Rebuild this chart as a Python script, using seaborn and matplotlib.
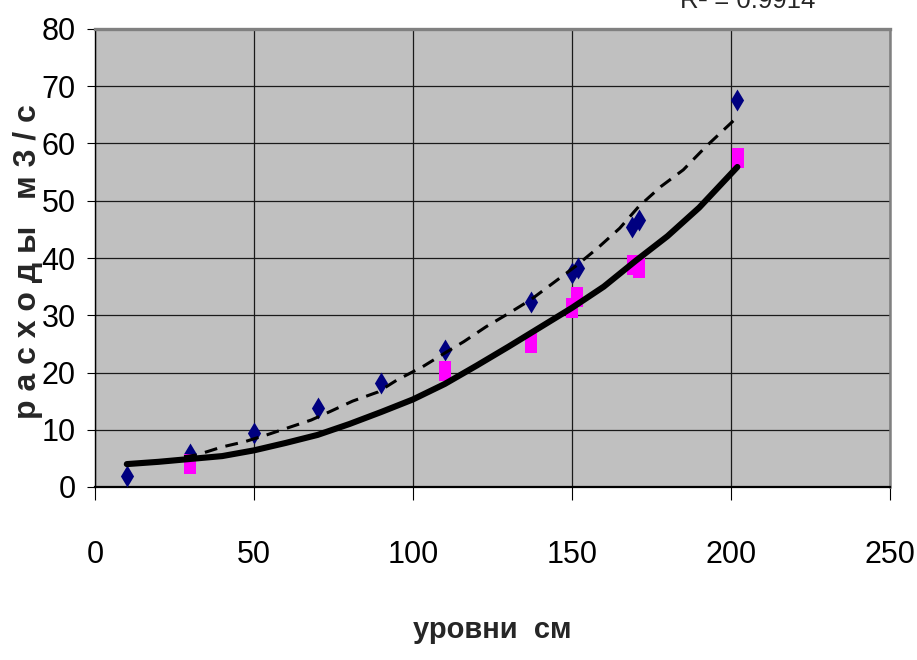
import matplotlib
matplotlib.use("Agg")
import matplotlib.pyplot as plt
from matplotlib import font_manager
import seaborn as sns
import pandas as pd

# measured points (diamonds) and second series (squares)
diam_x = [10, 30, 50, 70, 90, 110, 137, 150, 152, 169, 171, 202]
diam_y = [1.9, 5.7, 9.5, 13.8, 18.1, 23.9, 32.4, 37.3, 38.2, 45.5, 46.6, 67.6]
sq_x = [30, 110, 137, 150, 151.5, 169.3, 171, 202.3]
sq_y = [4.1, 20.3, 25.1, 31.3, 33.2, 38.8, 38.2, 57.4]

# trend curves
solid_x = [10, 20, 30, 40, 50, 60, 70, 80, 90, 100, 110, 120, 130, 140, 150, 160, 170, 180, 190, 202]
solid_y = [4.0, 4.4, 4.9, 5.4, 6.4, 7.7, 9.1, 11.0, 13.1, 15.3, 18.0, 21.2, 24.5, 27.9, 31.3, 35.0, 39.5, 43.8, 48.8, 55.9]
dash_x = [28, 32, 40, 47, 54, 61, 68, 74, 81, 89, 95, 103, 110, 116, 123, 130, 137, 144, 151, 158, 165, 171, 178, 185, 192, 201]
dash_y = [5.3, 5.6, 7.0, 7.9, 9.1, 10.4, 11.7, 13.2, 15.0, 16.6, 18.7, 21.0, 23.4, 25.4, 28.0, 30.3, 32.7, 35.6, 38.5, 41.7, 45.2, 49.0, 52.5, 55.4, 59.4, 64.1]

xticks = [0, 50, 100, 150, 200, 250]
yticks = [0, 10, 20, 30, 40, 50, 60, 70, 80]
xlabel = "уровни  см"
ylabel = "р а с х о д ы   м 3 / с"
r2_text = "R² = 0.9914"


def pick_font(names):
    for n in names:
        try:
            font_manager.findfont(n, fallback_to_default=False)
            return n
        except ValueError:
            pass
    return "DejaVu Sans"


sns.set_style("ticks")
narrow = pick_font(["Liberation Sans Narrow", "Arial Narrow", "Liberation Sans"])
plt.rcParams["font.family"] = [narrow, "DejaVu Sans"]

fig = plt.figure(figsize=(9.17, 6.6), dpi=100)
ax = fig.add_axes([95 / 917, 1 - 487 / 660, 795 / 917, 458 / 660])
ax.set_facecolor("#c0c0c0")

pts = pd.DataFrame({"x": diam_x, "y": diam_y})
sq = pd.DataFrame({"x": sq_x, "y": sq_y})
solid = pd.DataFrame({"x": solid_x, "y": solid_y})
dash = pd.DataFrame({"x": dash_x, "y": dash_y})

sns.scatterplot(data=pts, x="x", y="y", marker="d", s=125, color="#000080",
                linewidth=0, ax=ax, zorder=3)
rect = [(-0.3, -0.5), (0.3, -0.5), (0.3, 0.5), (-0.3, 0.5)]
sns.scatterplot(data=sq, x="x", y="y", marker=rect, s=205, color="#ff00ff",
                linewidth=0, ax=ax, zorder=4)
sns.lineplot(data=dash, x="x", y="y", color="black", lw=2.2,
             linestyle=(0, (4.2, 2.8)), ax=ax, zorder=5)
sns.lineplot(data=solid, x="x", y="y", color="black", lw=4.4,
             solid_capstyle="round", ax=ax, zorder=6)

ax.set_xlim(0, 250)
ax.set_ylim(0, 80)
ax.set_xticks(xticks)
ax.set_yticks(yticks)
ax.grid(True, color="#1a1a1a", lw=0.9)
ax.set_axisbelow(True)

ax.tick_params(axis="x", direction="out", length=9.5, width=0.8, pad=29,
               labelsize=22, colors="black")
ax.tick_params(axis="y", direction="out", length=6, width=0.8, pad=8,
               labelsize=22, colors="black")

for side in ["left", "bottom"]:
    ax.spines[side].set_color("black")
    ax.spines[side].set_linewidth(1.0)
ax.spines["bottom"].set_linewidth(1.6)
ax.spines["top"].set_color("#808080")
ax.spines["top"].set_linewidth(2.4)
ax.spines["right"].set_color("#808080")
ax.spines["right"].set_linewidth(1.8)

ax.set_xlabel(xlabel, fontsize=21, fontweight="bold")
ax.xaxis.set_label_coords(0.5, (487 - 638) / 458)
ax.xaxis.label.set_va("baseline")
ax.set_ylabel(ylabel, fontsize=23, fontweight="bold")
ax.yaxis.set_label_coords((36 - 95) / 795, (487 - 262) / 458)
ax.yaxis.label.set_va("baseline")

fig.text(680 / 917, 1 - 8 / 660, r2_text, fontsize=18.5, ha="left", va="baseline")

fig.savefig("out.png", dpi=100)
